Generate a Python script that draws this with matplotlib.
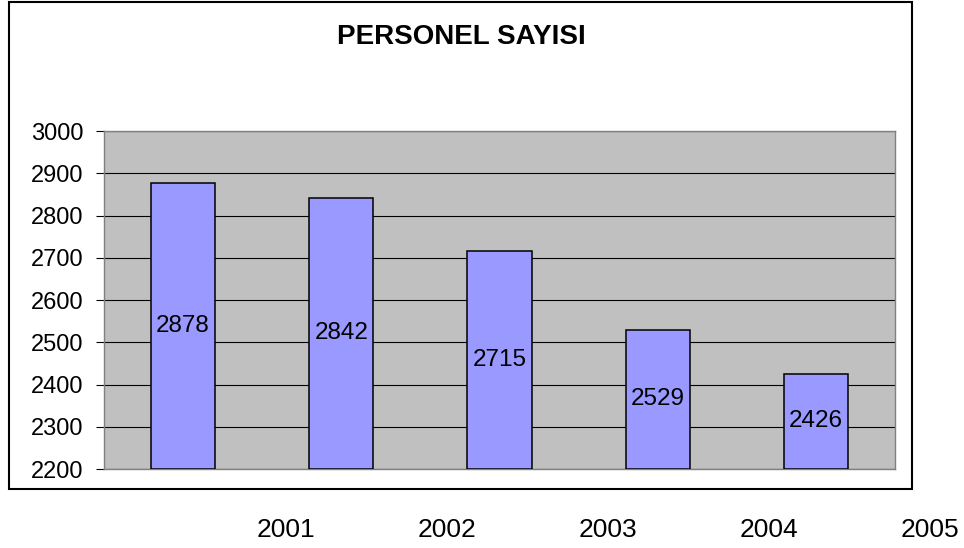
import matplotlib.pyplot as plt
from matplotlib.patches import Rectangle

plt.rcParams['font.family'] = ['Liberation Sans', 'DejaVu Sans']

# data
years = ['2001', '2002', '2003', '2004', '2005']
staff = [2878, 2842, 2715, 2529, 2426]

fig = plt.figure(figsize=(9.64, 5.48), dpi=100)
ax = fig.add_axes([104 / 964, 1 - 469 / 548, 791 / 964, 338 / 548])
ax.set_facecolor('#C0C0C0')

x = list(range(len(staff)))
bars = ax.bar(x, [v - 2200 for v in staff], bottom=2200, width=0.405,
              color='#9999FF', edgecolor='black', linewidth=1.1, zorder=3)

# values in the middle of each bar
for xi, v in zip(x, staff):
    ax.text(xi, (2200 + v) / 2, str(v), ha='center', va='center',
            fontsize=17.5, zorder=4)

ax.set_xlim(-0.5, len(staff) - 0.5)
ax.set_ylim(2200, 3000)
ax.set_yticks(range(2200, 3001, 100))
ax.yaxis.grid(True, color='black', linewidth=0.8, zorder=1)
ax.set_axisbelow(True)
ax.set_xticks([])
ax.tick_params(axis='y', labelsize=17, length=6, width=0.8, pad=9)
for side in ['top', 'right', 'bottom', 'left']:
    ax.spines[side].set_color('#808080')
    ax.spines[side].set_linewidth(1.0)

# year labels sit off to the right of each category, below the frame
for xi, yr in zip(x, years):
    ax.text(xi * 1.018 + 0.65, -0.18, yr, transform=ax.get_xaxis_transform(),
            ha='center', va='center', fontsize=19, clip_on=False)

fig.text(461 / 964, 1 - 37 / 548, 'PERSONEL SAYISI', ha='center', va='center',
         fontsize=20, fontweight='bold')

# outer chart frame
fig.add_artist(Rectangle((9 / 964, 1 - 489 / 548), 903 / 964, 487 / 548,
                         transform=fig.transFigure, fill=False,
                         edgecolor='black', linewidth=1.5))

fig.savefig('out.png', dpi=100, facecolor='white')
